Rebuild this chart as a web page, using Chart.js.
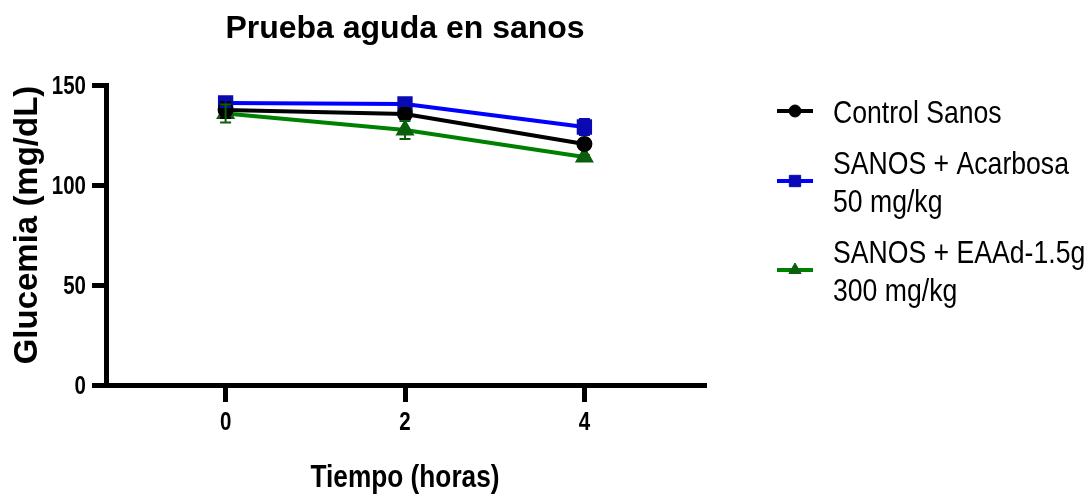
<!DOCTYPE html>
<html>
<head>
<meta charset="utf-8">
<script src="https://cdn.jsdelivr.net/npm/chart.js@4/dist/chart.umd.min.js"></script>
<style>
  html, body { margin: 0; padding: 0; background: #fff; }
  #wrap { width: 1092px; height: 499px; position: relative; }
</style>
</head>
<body>
<div id="wrap"><canvas id="c" width="1092" height="499"></canvas></div>
<script>
// Texts
const chartTitle = 'Prueba aguda en sanos';
const xTitle = 'Tiempo (horas)';
const yTitle = 'Glucemia (mg/dL)';

// Axis values
const timeHours = [0, 2, 4];
const xTickValues = [0, 2, 4];
const yTickValues = [0, 50, 100, 150];

// Series names (one array entry per legend line)
const controlName = ['Control Sanos'];
const acarbosaName = ['SANOS + Acarbosa', '50 mg/kg'];
const eaadName = ['SANOS + EAAd-1.5g', '300 mg/kg'];

// Mean glucose (mg/dL) and SEM at each time
const controlMean = [137.5, 135.5, 120.5];
const controlSem = [4, 2.5, 1.5];
const acarbosaMean = [141, 140.5, 129];
const acarbosaSem = [2, 1, 4];
const eaadMean = [135.8, 127.5, 114];
const eaadSem = [4.5, 4.5, 1];

const toPoints = (xs, ys) => xs.map((x, i) => ({ x: x, y: ys[i] }));

const datasets = [
  {
    label: controlName.join(' '), legendLines: controlName, errorValues: controlSem,
    data: toPoints(timeHours, controlMean),
    borderColor: '#000000', backgroundColor: '#000000',
    pointBackgroundColor: '#000000', pointBorderColor: '#000000',
    pointStyle: 'circle', pointRadius: 6, borderWidth: 4, capColor: '#000000'
  },
  {
    label: acarbosaName.join(' '), legendLines: acarbosaName, errorValues: acarbosaSem,
    data: toPoints(timeHours, acarbosaMean),
    borderColor: '#0000ff', backgroundColor: '#0a0ab4',
    pointBackgroundColor: '#0a0ab4', pointBorderColor: '#0a0ab4',
    pointStyle: 'rect', pointRadius: 8, borderWidth: 4, capColor: '#0a0ab4'
  },
  {
    label: eaadName.join(' '), legendLines: eaadName, errorValues: eaadSem,
    data: toPoints(timeHours, eaadMean),
    borderColor: '#008000', backgroundColor: '#0b5e0b',
    pointBackgroundColor: '#0b5e0b', pointBorderColor: '#0b5e0b',
    pointStyle: 'triangle', pointRadius: 7, borderWidth: 4, capColor: '#0b5e0b'
  }
];

// Draws text squeezed horizontally (narrow sans look)
function narrowText(ctx, text, x, y, font, sx, align, baseline) {
  ctx.save();
  ctx.translate(x, y);
  ctx.scale(sx, 1);
  ctx.font = font;
  ctx.textAlign = align;
  ctx.textBaseline = baseline;
  ctx.fillText(text, 0, 0);
  ctx.restore();
}

// Vertical SEM bars with caps
const errorBars = {
  id: 'errorBars',
  afterDatasetsDraw(chart) {
    const ctx = chart.ctx;
    const ys = chart.scales.y;
    chart.data.datasets.forEach((ds, i) => {
      const meta = chart.getDatasetMeta(i);
      ctx.save();
      ctx.strokeStyle = ds.capColor;
      ctx.lineWidth = 2;
      meta.data.forEach((pt, j) => {
        const v = ds.data[j].y, e = ds.errorValues[j];
        const y1 = ys.getPixelForValue(v + e);
        const y2 = ys.getPixelForValue(v - e);
        const half = 5.5;
        ctx.beginPath();
        ctx.moveTo(pt.x, y1); ctx.lineTo(pt.x, y2);
        ctx.moveTo(pt.x - half, y1); ctx.lineTo(pt.x + half, y1);
        ctx.moveTo(pt.x - half, y2); ctx.lineTo(pt.x + half, y2);
        ctx.stroke();
      });
      ctx.restore();
    });
  }
};

// Tick labels, titles and the legend on the right
const decorations = {
  id: 'decorations',
  afterDraw(chart) {
    const ctx = chart.ctx;
    const area = chart.chartArea;
    const cx = (area.left + area.right) / 2;
    const xs = chart.scales.x, ys = chart.scales.y;
    const SX = 0.82;
    ctx.save();
    ctx.fillStyle = '#000';

    // tick labels
    const tickFont = 'bold 25px "Liberation Sans"';
    xs.ticks.forEach(t => {
      narrowText(ctx, String(t.value), xs.getPixelForValue(t.value), 430, tickFont, SX, 'center', 'alphabetic');
    });
    ys.ticks.forEach(t => {
      narrowText(ctx, String(t.value), 86, ys.getPixelForValue(t.value) + 9, tickFont, SX, 'right', 'alphabetic');
    });

    // chart title
    ctx.font = 'bold 32px "Liberation Sans"';
    ctx.textAlign = 'center';
    ctx.textBaseline = 'alphabetic';
    ctx.fillText(chartTitle, cx, 37.5);

    // axis titles
    narrowText(ctx, xTitle, cx, 478, 'bold 32px "Liberation Sans"', SX, 'center', 'middle');

    ctx.save();
    ctx.translate(28, 225);
    ctx.rotate(-Math.PI / 2);
    ctx.font = 'bold 33px "Liberation Sans"';
    ctx.textAlign = 'center';
    ctx.textBaseline = 'middle';
    ctx.fillText(yTitle, 0, 0);
    ctx.restore();

    // legend
    const lineH = 38, gap = 13;
    let top = 95;
    chart.data.datasets.forEach(ds => {
      const lines = ds.legendLines;
      const h = lines.length * lineH;
      const my = top + h / 2 - 3;
      ctx.strokeStyle = ds.borderColor;
      ctx.lineWidth = 4;
      ctx.beginPath();
      ctx.moveTo(777, my); ctx.lineTo(813, my);
      ctx.stroke();
      ctx.fillStyle = ds.pointBackgroundColor;
      ctx.strokeStyle = ds.pointBorderColor;
      ctx.lineWidth = 1;
      Chart.helpers.drawPoint(ctx, {
        pointStyle: ds.pointStyle, radius: ds.pointRadius, borderWidth: 1, rotation: 0
      }, 795, my);
      ctx.fillStyle = '#000';
      lines.forEach((t, k) => {
        narrowText(ctx, t, 833, top + lineH / 2 + k * lineH, '31.5px "Liberation Sans"', 0.845, 'left', 'middle');
      });
      top += h + gap;
    });
    ctx.restore();
  }
};

new Chart(document.getElementById('c'), {
  type: 'line',
  data: { datasets: datasets },
  plugins: [errorBars, decorations],
  options: {
    responsive: false,
    animation: false,
    clip: false,
    layout: { padding: { left: 0, top: 85, right: 1092 - 704, bottom: 0 } },
    plugins: {
      legend: { display: false },
      title: { display: false },
      tooltip: { enabled: false }
    },
    elements: { line: { tension: 0 } },
    scales: {
      x: {
        type: 'linear',
        min: -4 / 3,
        max: 16 / 3,
        afterBuildTicks: s => { s.ticks = xTickValues.map(v => ({ value: v })); },
        afterFit: s => { s.height = 499 - 385; },
        grid: { display: true, drawOnChartArea: false, drawTicks: true, tickLength: 17, lineWidth: 5, color: '#000' },
        border: { display: true, width: 5, color: '#000' },
        ticks: { display: false }
      },
      y: {
        min: 0,
        max: 150,
        afterBuildTicks: s => { s.ticks = yTickValues.map(v => ({ value: v })); },
        afterFit: s => { s.width = 106; },
        grid: { display: true, drawOnChartArea: false, drawTicks: true, tickLength: 14, lineWidth: 5, color: '#000' },
        border: { display: true, width: 5, color: '#000' },
        ticks: { display: false }
      }
    }
  }
});
</script>
</body>
</html>
